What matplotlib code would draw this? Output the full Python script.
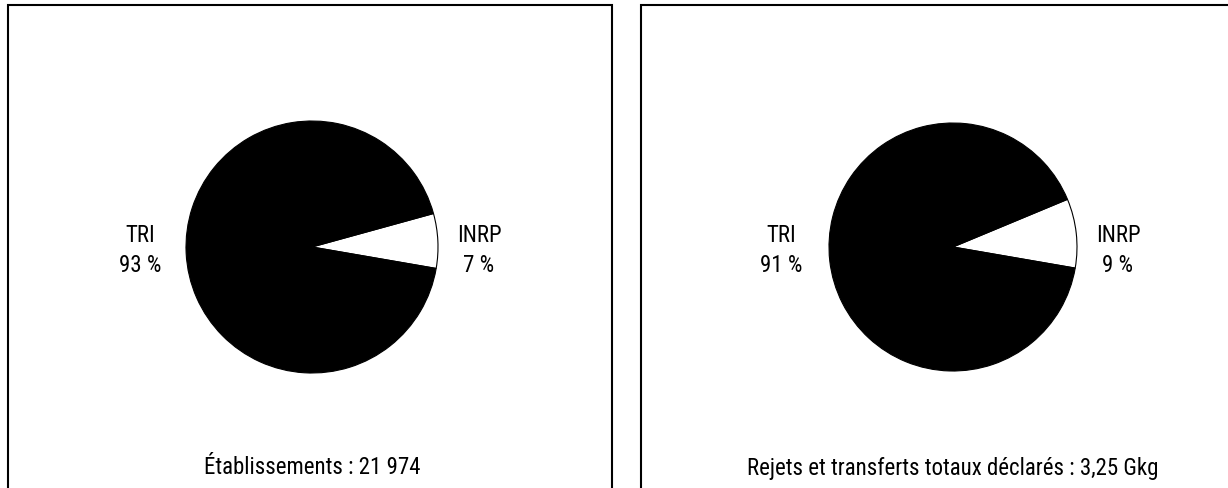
import matplotlib
matplotlib.use("Agg")
import matplotlib.pyplot as plt
from matplotlib.patches import Rectangle

plt.rcParams['font.family'] = ['Roboto Condensed', 'Liberation Sans Narrow', 'Roboto', 'DejaVu Sans']

# Data
categories = ["INRP", "TRI"]
share_etab = [7, 93]
share_rejets = [9, 91]
titles = ["Établissements : 21 974", "Rejets et transferts totaux déclarés : 3,25 Gkg"]

W, H = 1228, 488
fig = plt.figure(figsize=(W / 100, H / 100), dpi=100)
ax = fig.add_axes([0, 0, 1, 1])

def Y(y):
    return H - y

panels = [
    dict(x0=8, x1=612, cx=312, cy=247, r=126, tri_x=140, inrp_x=479, shares=share_etab, title=titles[0]),
    dict(x0=641, x1=1245, cx=953, cy=247, r=124, tri_x=781, inrp_x=1118, shares=share_rejets, title=titles[1]),
]

for p in panels:
    rect = Rectangle((p['x0'], Y(505)), p['x1'] - p['x0'], 505 - 5,
                     fill=False, edgecolor='black', linewidth=1.5, clip_on=False)
    ax.add_patch(rect)
    ax.pie(p['shares'], startangle=-9.8, colors=['white', 'black'],
           center=(p['cx'], Y(p['cy'])), radius=p['r'],
           wedgeprops=dict(edgecolor='black', linewidth=0.8))
    fs = 16.5
    ax.text(p['tri_x'], Y(235), categories[1], ha='center', va='center', fontsize=fs)
    ax.text(p['tri_x'], Y(265), f"{p['shares'][1]} %", ha='center', va='center', fontsize=fs)
    ax.text(p['inrp_x'], Y(235), categories[0], ha='center', va='center', fontsize=fs)
    ax.text(p['inrp_x'], Y(265), f"{p['shares'][0]} %", ha='center', va='center', fontsize=fs)
    ax.text(p['cx'], Y(468), p['title'], ha='center', va='center', fontsize=fs)

ax.set_xlim(0, W)
ax.set_ylim(0, H)
ax.set_aspect('auto')
ax.axis('off')

fig.savefig("out.png", dpi=100)
